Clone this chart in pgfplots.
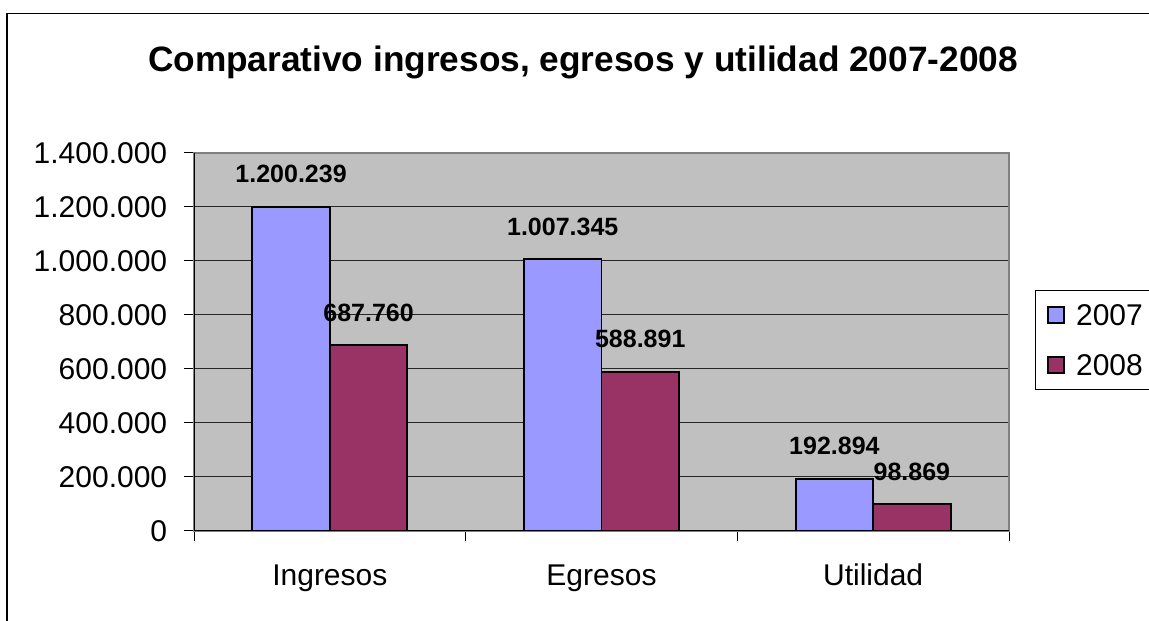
\documentclass[border=0pt]{standalone}
\usepackage{fontspec}
\setmainfont{Liberation Sans}
\usepackage{pgfplots}
\usepackage{pgfplotstable}
\pgfplotsset{compat=1.18}

\definecolor{bar07}{HTML}{9999FF}
\definecolor{bar08}{HTML}{993366}
\definecolor{plotbg}{HTML}{C0C0C0}

% values per category: 0 Ingresos, 1 Egresos, 2 Utilidad
\pgfplotstableread{
x y label
0 1200239 1.200.239
1 1007345 1.007.345
2 192894 192.894
}\datasiete
\pgfplotstableread{
x y label
0 687760 687.760
1 588891 588.891
2 98869 98.869
}\dataocho

\begin{document}
\begin{tikzpicture}
\path[use as bounding box] (0,0) rectangle (459.6pt,248.4pt);
% outer chart frame (cut off on right and bottom)
\draw[line width=0.5pt] (2.8pt,0) -- (2.8pt,243pt) -- (459.6pt,243pt);
\node[anchor=base, font=\bfseries\fontsize{14.1}{17}\selectfont]
  at (233.2pt,219.7pt) {Comparativo ingresos, egresos y utilidad 2007-2008};

\begin{axis}[
    at={(77.6pt,36pt)}, anchor=south west,
    scale only axis, width=326pt, height=151.2pt,
    xmin=-0.5, xmax=2.5, ymin=0, ymax=1400000,
    ybar=0pt, bar width=31pt,
    xtick={0,1,2}, xticklabels={Ingresos,Egresos,Utilidad},
    minor xtick={-0.5,0.5,1.5,2.5},
    ytick={0,200000,400000,600000,800000,1000000,1200000,1400000},
    scaled y ticks=false,
    yticklabel={\pgfmathprintnumber[fixed, precision=0, 1000 sep={.}, assume math mode=true]{\tick}},
    tick align=outside, tick pos=left,
    major tick length=4pt, minor tick length=4pt,
    major x tick style={draw=none},
    tick style={black, line width=0.4pt},
    ymajorgrids, grid style={black!85, line width=0.4pt},
    axis background/.style={fill=plotbg},
    axis line style={draw=gray, line width=0.6pt},
    tick label style={font=\fontsize{12}{14}\selectfont},
    yticklabel style={xshift=-3.2pt},
    xticklabel style={anchor=base, yshift=-17.9pt},
    point meta=explicit symbolic,
    nodes near coords={\pgfplotspointmeta},
    every node near coord/.append style={anchor=base, yshift=9.6pt, inner sep=0pt,
        font=\bfseries\fontsize{10}{12}\selectfont},
    legend image code/.code={\draw[#1, line width=0.7pt] (0pt,-3.2pt) rectangle (6.4pt,3.2pt);},
    legend style={at={(axis description cs:1.0319,0.6376)}, anchor=north west,
        draw=black, line width=0.5pt, font=\fontsize{12}{14}\selectfont,
        nodes={inner sep=0pt, text depth=0pt}, column sep=4.4pt, row sep=11.8pt,
        inner xsep=4.7pt, inner ysep=5.5pt},
    legend cell align=left,
]
\addplot[fill=bar07, draw=black, line width=0.75pt] table[x=x, y=y, meta=label] {\datasiete};
\addplot[fill=bar08, draw=black, line width=0.75pt] table[x=x, y=y, meta=label] {\dataocho};
\legend{2007,2008}
% left and bottom axis lines are black, the rest of the frame grey
\draw[black, line width=0.5pt] (rel axis cs:0,1) -- (rel axis cs:0,0) -- (rel axis cs:1,0);
\end{axis}
\end{tikzpicture}
\end{document}
